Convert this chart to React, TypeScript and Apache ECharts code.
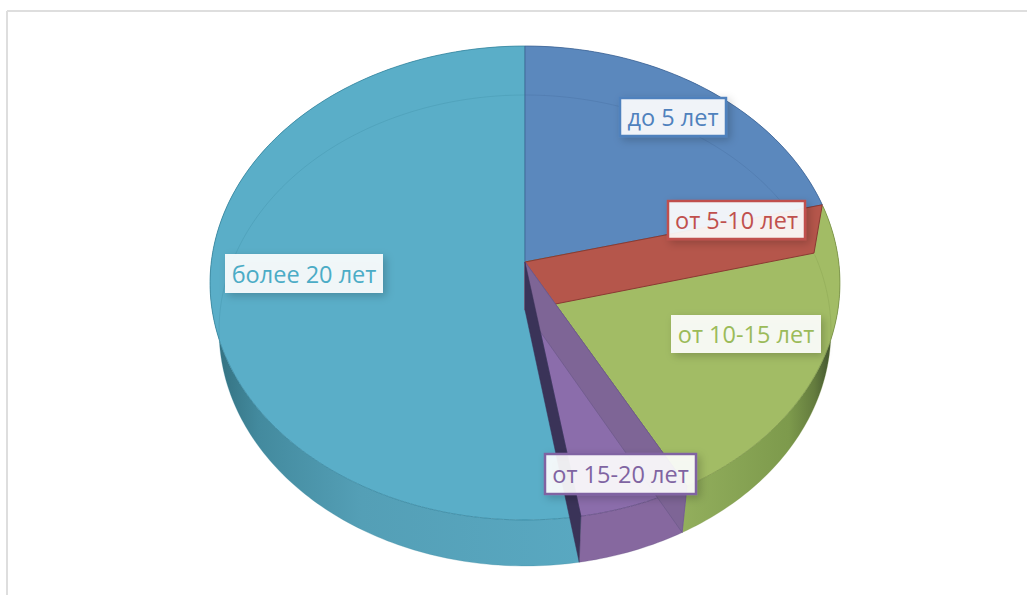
import React, { useEffect, useRef } from "react";
import * as echarts from "echarts";

const categories = ["до 5 лет", "от 5-10 лет", "от 10-15 лет", "от 15-20 лет", "более 20 лет"];
const values = [21, 0.1, 21, 5.3, 52.6];

// painter's order of the slices: teal, blue, green, red, purple
const drawOrder = [4, 0, 2, 1, 3];

const topFill = ["#5b88bd", "#b5564b", "#a2bc65", "#8b6dab", "#5aaec8"];
const edge = ["#3f6596", "#8a3a33", "#7c9548", "#5f4a80", "#37879f"];
const labelText = ["#4f81bd", "#c0504d", "#9bbb59", "#8064a2", "#4bacc6"];
const labelBorder = ["#4f81bd", "#c0504d", "", "#8064a2", ""];
const labelBoxes = [
  { x: 620, y: 98, w: 106, h: 38 },
  { x: 668, y: 201, w: 137, h: 38 },
  { x: 671, y: 315, w: 150, h: 38 },
  { x: 545, y: 454, w: 151, h: 40 },
  { x: 225, y: 254, w: 158, h: 39 },
];

const topFace = { cx: 525, cy: 262, a: 313.7, b: 235.1, p: 0.0886 };
const bottomFace = { cx: 525, cy: 310, a: 304.8, b: 233.7, p: 0.087 };
type Face = typeof topFace;

const total = values.reduce((s, v) => s + v, 0);
const startOf = (i: number) => values.slice(0, i).reduce((s, v) => s + v, 0);

function project(f: Face, pct: number): number[] {
  const t = (pct / total) * Math.PI * 2;
  const u = Math.sin(t);
  const v = Math.cos(t);
  const w = 1 + f.p * v;
  return [f.cx + (f.a * u) / w, f.cy - (f.b * v) / w];
}
function arc(f: Face, from: number, to: number): number[][] {
  const n = Math.max(2, Math.ceil(((to - from) / total) * 360));
  const pts: number[][] = [];
  for (let k = 0; k <= n; k++) pts.push(project(f, from + ((to - from) * k) / n));
  return pts;
}

function sideFill(i: number) {
  if (i === 2)
    return new echarts.graphic.LinearGradient(840, 0, 680, 0, [
      { offset: 0, color: "#3f4f28" },
      { offset: 0.06, color: "#445730" },
      { offset: 0.16, color: "#647c3e" },
      { offset: 0.32, color: "#7d9a4c" },
      { offset: 1, color: "#93af5d" },
    ], true);
  if (i === 4)
    return new echarts.graphic.LinearGradient(215, 0, 580, 0, [
      { offset: 0, color: "#33707f" },
      { offset: 0.12, color: "#438a9e" },
      { offset: 0.4, color: "#549fb6" },
      { offset: 1, color: "#59a8c1" },
    ], true);
  if (i === 3) return "#86689f";
  return topFill[i];
}

function renderItem(_params: any, api: any) {
  const from = api.value(0);
  const to = api.value(1);
  const i = api.value(2);
  const topArc = arc(topFace, from, to);
  const botArc = arc(bottomFace, from, to);
  const topC = [topFace.cx, topFace.cy];
  const botC = [bottomFace.cx, bottomFace.cy];
  const children: any[] = [];
  const poly = (points: number[][], style: any) => ({ type: "polygon", silent: true, shape: { points }, style });
  const line = (points: number[][], style: any) => ({ type: "polyline", silent: true, shape: { points }, style: { fill: null, ...style } });

  if (i !== 1) {
    children.push(poly([...topArc, ...botArc.slice().reverse()], { fill: sideFill(i) }));
    children.push(poly([topC, ...topArc], { fill: topFill[i], stroke: edge[i], lineWidth: 0.8 }));
    children.push(line(botArc, { stroke: edge[i], lineWidth: 0.6, opacity: 0.45 }));
  }
  if (i === 1) {
    // the thin slice shows as its cut wall
    children.push(poly([topC, project(topFace, from), project(bottomFace, from), botC], {
      fill: topFill[1], stroke: edge[1], lineWidth: 1,
    }));
  }
  if (i === 3) {
    children.push(poly([topC, project(topFace, from), project(bottomFace, from), botC], {
      fill: "#7e6596", stroke: "#6f5a8c", lineWidth: 0.8,
    }));
    children.push(poly([topC, project(topFace, to), project(bottomFace, to), botC], {
      fill: "#3a3358", stroke: "#3a3358", lineWidth: 0.5,
    }));
  }
  return { type: "group", children };
}

const rows = drawOrder.map((i) => [startOf(i), startOf(i) + values[i], i]);

export default function App() {
  const ref = useRef<HTMLDivElement>(null);
  useEffect(() => {
    document.body.style.margin = "0";
    const chart = echarts.init(ref.current!, undefined, { renderer: "svg" });
    const labels: any[] = [];
    categories.forEach((name, i) => {
      const b = labelBoxes[i];
      labels.push({
        type: "rect",
        silent: true,
        z: 20,
        shape: { x: b.x, y: b.y, width: b.w, height: b.h },
        style: {
          fill: "rgba(255,255,255,0.9)",
          stroke: labelBorder[i] || null,
          lineWidth: labelBorder[i] ? 2.5 : 0,
          shadowBlur: 9,
          shadowColor: "rgba(0,0,0,0.22)",
          shadowOffsetX: 3,
          shadowOffsetY: 3,
        },
      });
      labels.push({
        type: "text",
        silent: true,
        z: 21,
        x: b.x + b.w / 2,
        y: b.y + b.h / 2,
        style: {
          text: name,
          fill: labelText[i],
          font: "23.5px 'Open Sans', sans-serif",
          align: "center",
          verticalAlign: "middle",
        },
      });
    });
    chart.setOption({
      animation: false,
      backgroundColor: "#ffffff",
      tooltip: { show: false },
      graphic: [
        { type: "line", silent: true, shape: { x1: 7, y1: 11, x2: 1027, y2: 11 }, style: { stroke: "#dedede", lineWidth: 2 } },
        { type: "line", silent: true, shape: { x1: 7, y1: 11, x2: 7, y2: 595 }, style: { stroke: "#dedede", lineWidth: 2 } },
        ...labels,
      ],
      series: [
        {
          type: "custom",
          coordinateSystem: "none",
          silent: true,
          renderItem,
          data: rows,
          encode: { x: 0, y: 1 },
          clip: false,
        },
      ],
    });
    return () => chart.dispose();
  }, []);
  return <div ref={ref} style={{ position: "absolute", left: 0, top: 0, width: 1027, height: 595 }} />;
}
